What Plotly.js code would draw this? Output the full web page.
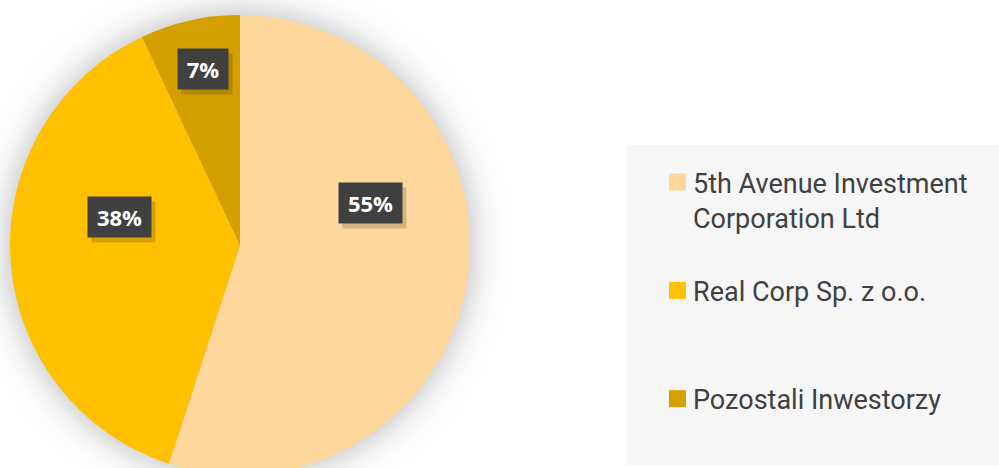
<!DOCTYPE html>
<html>
<head>
<meta charset="utf-8">
<script src="https://cdn.plot.ly/plotly-3.0.1.min.js"></script>
<style>
html, body { margin: 0; padding: 0; overflow: hidden; background: #ffffff; }
#chart { width: 999px; height: 480px; }
.pielayer { filter: drop-shadow(0px 0px 18px rgba(0,0,0,0.30)); }
</style>
</head>
<body>
<div id="chart"></div>
<script>
// Data
const labels = ["5th Avenue Investment Corporation Ltd", "Real Corp Sp. z o.o.", "Pozostali Inwestorzy"];
const legendText = ["5th Avenue Investment<br>Corporation Ltd<br> ", "Real Corp Sp. z o.o.<br> <br> ", "Pozostali Inwestorzy"];
const shares = [55, 38, 7];
const percentLabels = ["55%", "38%", "7%"];
const colors = ["#FED79C", "#FFC000", "#D3A000"];

const W = 999, H = 480;

// data-label box centres (pixels) and widths
const labelPos = [[370, 203], [119.5, 217], [202.5, 69]];
const boxW = [51, 51, 38];

const annotations = [];
percentLabels.forEach((t, i) => {
  const x = labelPos[i][0] / W, y = 1 - labelPos[i][1] / H;
  annotations.push({
    xref: 'paper', yref: 'paper', x: x, y: y, xanchor: 'center', yanchor: 'middle',
    text: ' ', showarrow: false, bgcolor: 'rgba(0,0,0,0.16)', borderpad: 6,
    width: boxW[i], height: 28, xshift: 4, yshift: -5,
    font: {size: 22, family: 'Open Sans'}
  });
  annotations.push({
    xref: 'paper', yref: 'paper', x: x, y: y, xanchor: 'center', yanchor: 'middle',
    text: '<b>' + t + '</b>', showarrow: false, bgcolor: '#404040', borderpad: 6,
    width: boxW[i], height: 28,
    font: {size: 22, family: 'Open Sans', color: '#ffffff'}
  });
});

const trace = {
  type: 'pie',
  labels: legendText,
  values: shares,
  sort: false,
  direction: 'clockwise',
  rotation: 0,
  textinfo: 'none',
  hoverinfo: 'none',
  marker: {colors: colors, line: {width: 0}},
  domain: {x: [10 / W, 470 / W], y: [1 - 475 / H, 1 - 15 / H]}
};

const layout = {
  width: W, height: H,
  margin: {l: 0, r: 0, t: 0, b: 0},
  paper_bgcolor: '#ffffff',
  showlegend: true,
  legend: {
    x: 653 / W, y: 1 - 158 / H, xanchor: 'left', yanchor: 'top',
    bgcolor: 'rgba(0,0,0,0)', valign: 'top',
    font: {family: 'Roboto', size: 27, color: '#404040'}
  },
  shapes: [{
    type: 'rect', xref: 'paper', yref: 'paper', layer: 'below',
    x0: 627 / W, x1: 1, y0: 1 - 465 / H, y1: 1 - 145 / H,
    fillcolor: '#F6F6F6', line: {width: 0}
  }],
  annotations: annotations
};

Plotly.newPlot('chart', [trace], layout, {staticPlot: true}).then(() => {
  document.querySelectorAll('.legendpoints path').forEach(p => {
    p.setAttribute('d', 'M13,8.5H-4V-8.5H13Z');
  });
});
</script>
</body>
</html>
